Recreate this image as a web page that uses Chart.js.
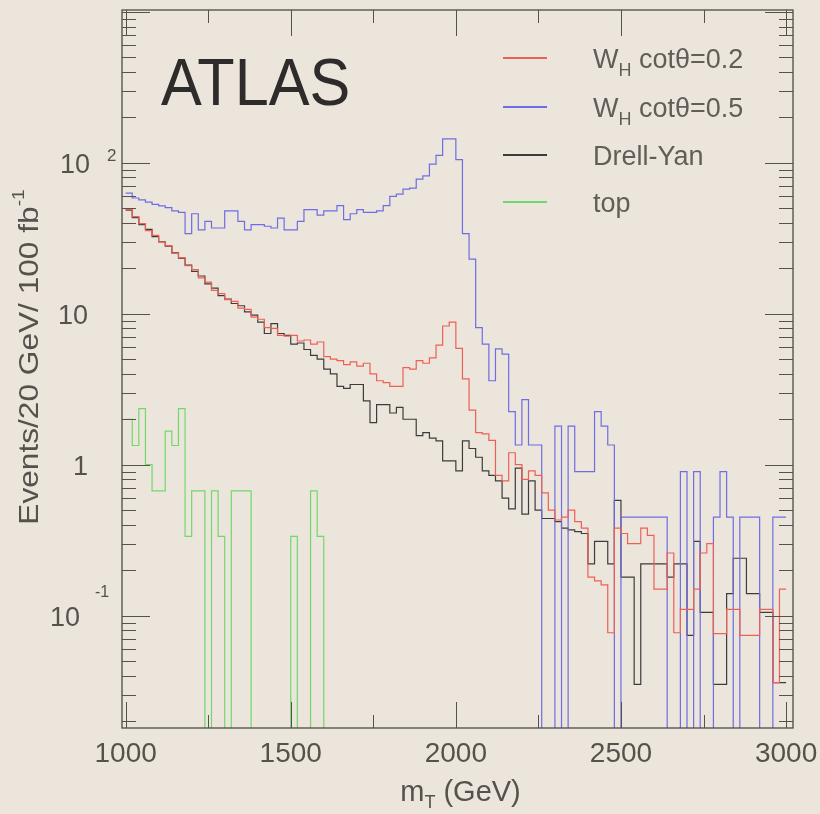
<!DOCTYPE html>
<html>
<head>
<meta charset="UTF-8">
<script src="https://cdn.jsdelivr.net/npm/chart.js"></script>
<style>
  html, body { margin: 0; padding: 0; background: #ece5dc; }
  #mtChart { display: block; }
</style>
</head>
<body>
<canvas id="mtChart" width="820" height="814"></canvas>
<script>
// m_T spectra, 20 GeV bins from 1000 to 3000 GeV (events per bin, 0 = empty bin)
const binLow = 1000;
const binWidth = 20;

const whCot02 = [
  49.0, 44.0, 39.6, 35.6, 33.1, 29.8, 28.3, 25.1, 23.6, 20.8,
  19.6, 17.3, 16.2, 14.3, 13.6, 12.4, 12.1, 10.9, 10.7, 9.5,
  9.2, 8.1, 8.0, 7.2, 7.1, 7.2, 6.6, 6.7, 6.3, 6.5,
  5.2, 5.0, 4.9, 4.6, 4.8, 4.5, 4.7, 4.0, 3.6, 3.5,
  3.3, 3.3, 4.4, 4.3, 4.9, 4.7, 5.1, 6.2, 8.3, 8.8,
  5.9, 3.7, 2.3, 1.63, 1.6, 1.45, 0.85, 0.78, 1.2, 1.0,
  0.8, 0.91, 0.85, 0.65, 0.5, 0.43, 0.45, 0.5, 0.42, 0.38,
  0.18, 0.17, 0.16, 0.077, 0.38, 0.35, 0.3, 0.3, 0.38, 0.34,
  0.15, 0.15, 0.26, 0.077, 0.11, 0.11, 0.15, 0.26, 0.3, 0.076,
  0.076, 0.11, 0.11, 0.074, 0.074, 0.074, 0.11, 0.11, 0.036, 0.15
];

const whCot05 = [
  63, 58.5, 56.8, 55, 53, 51.9, 50.5, 48, 47, 34,
  46, 36, 41, 37, 37, 48, 48, 41, 36, 39,
  39, 38, 37, 43, 36, 36, 41, 49, 49, 45,
  48, 48, 52, 42, 46, 49, 47, 47, 48, 52,
  60, 62, 67, 68, 78, 82, 98, 112, 144, 144,
  105, 34, 23, 8.1, 6.3, 3.6, 5.85, 5.4, 2.25, 1.35,
  2.7, 1.35, 1.35, 0, 0, 1.8, 0, 1.8, 0.9, 0.9,
  0.9, 2.25, 1.8, 1.35, 0, 0.45, 0.45, 0.45, 0.45, 0.45,
  0.45, 0.45, 0, 0, 0.9, 0, 0.9, 0, 0, 0.45,
  0.9, 0.45, 0, 0.45, 0.45, 0.45, 0, 0, 0.45, 0.45
];

const drellYan = [
  48.6, 43.4, 39.0, 36.2, 32.4, 30.0, 28.1, 25.3, 23.4, 21.0,
  19.1, 17.8, 15.8, 14.8, 13.2, 12.5, 11.7, 11.3, 10.3, 9.8,
  8.8, 7.4, 8.6, 7.4, 7.2, 6.3, 6.4, 5.8, 5.3, 5.0,
  4.3, 4.0, 3.3, 3.2, 3.4, 3.4, 2.65, 1.9, 2.5, 2.5,
  2.2, 2.4, 2.0, 2.0, 1.56, 1.63, 1.5, 1.44, 1.06, 1.06,
  0.91, 1.44, 1.28, 1.12, 0.91, 0.85, 0.78, 0.6, 0.51, 0.95,
  0.47, 0.78, 0.5, 0.44, 0.44, 0.42, 0.38, 0.37, 0.36, 0.35,
  0.22, 0.31, 0.31, 0.22, 0.58, 0.18, 0.18, 0.035, 0.22, 0.22,
  0.22, 0.22, 0.18, 0.22, 0.22, 0.074, 0.31, 0.105, 0.105, 0.035,
  0.035, 0.14, 0.24, 0.24, 0.14, 0.14, 0.105, 0.105, 0.036, 0.036
];

const topBkg = [
  2.0, 1.34, 2.35, 1.0, 0.67, 0.67, 1.67, 1.34, 2.35, 0.335,
  0.67, 0.67, 0, 0.67, 0.335, 0, 0.67, 0.67, 0.67, 0,
  0, 0, 0, 0, 0, 0.335, 0, 0, 0.67, 0.335,
  0, 0, 0, 0, 0, 0, 0, 0, 0, 0,
  0, 0, 0, 0, 0, 0, 0, 0, 0, 0,
  0, 0, 0, 0, 0, 0, 0, 0, 0, 0,
  0, 0, 0, 0, 0, 0, 0, 0, 0, 0,
  0, 0, 0, 0, 0, 0, 0, 0, 0, 0,
  0, 0, 0, 0, 0, 0, 0, 0, 0, 0,
  0, 0, 0, 0, 0, 0, 0, 0, 0, 0
];

const seriesLabels = ['W_H cotθ=0.2', 'W_H cotθ=0.5', 'Drell-Yan', 'top'];
const seriesColors = ['#ee5f55', '#6d6de4', '#3c3c3c', '#72d86c'];

const xTickLabels = [1000, 1500, 2000, 2500, 3000];
const yTickValues = [0.1, 1, 10, 100];
const yTickBase = ['10', '1', '10', '10'];
const yTickExp = ['-1', '', '', '2'];

const FONT = '"Liberation Sans", Arial, sans-serif';
const EMPTY = 1e-4; // empty bins fall below the axis and get clipped

// histogram outline: one point per low edge, plus the last high edge
function histPoints(values) {
  const pts = values.map((v, i) => ({ x: binLow + i * binWidth, y: v > 0 ? v : EMPTY }));
  const last = values[values.length - 1];
  pts.push({ x: binLow + values.length * binWidth, y: last > 0 ? last : EMPTY });
  return pts;
}

const allSeries = [whCot02, whCot05, drellYan, topBkg];

function textWithScripts(ctx, parts, x, y) {
  // parts: [{t, size, dy}]
  let cx = x;
  parts.forEach(p => {
    ctx.font = p.size + 'px ' + FONT;
    ctx.fillText(p.t, cx, y + (p.dy || 0));
    cx += ctx.measureText(p.t).width;
  });
  return cx;
}

function partsWidth(ctx, parts) {
  let w = 0;
  parts.forEach(p => { ctx.font = p.size + 'px ' + FONT; w += ctx.measureText(p.t).width; });
  return w;
}

// "W_H rest" -> W, subscript H, rest
function labelParts(label, size) {
  const m = label.match(/^(.*?)_(\w)(.*)$/);
  if (!m) return [{ t: label, size: size }];
  return [{ t: m[1], size: size }, { t: m[2], size: Math.round(size * 0.66), dy: 8 }, { t: m[3], size: size }];
}

const rootFrame = {
  id: 'rootFrame',
  afterDatasetsDraw(chart) {
    const ctx = chart.ctx;
    const a = chart.chartArea;
    const xs = chart.scales.x;
    const ys = chart.scales.y;
    ctx.save();

    // frame
    ctx.strokeStyle = '#4d4a46';
    ctx.lineWidth = 1.3;
    ctx.strokeRect(a.left, a.top, a.right - a.left, a.bottom - a.top);

    ctx.lineWidth = 1;
    ctx.strokeStyle = '#55524e';
    const seg = (x1, y1, x2, y2) => { ctx.beginPath(); ctx.moveTo(x1, y1); ctx.lineTo(x2, y2); ctx.stroke(); };

    // x ticks, inward on bottom and top
    for (let v = 1000; v <= 3000; v += 250) {
      const px = Math.round(xs.getPixelForValue(v)) + 0.5;
      const len = v % 500 === 0 ? 26 : 13;
      seg(px, a.bottom, px, a.bottom - len);
      seg(px, a.top, px, a.top + len);
    }
    // y ticks, log decades with 2..9 minors
    for (let d = -2; d <= 3; d++) {
      for (let m = 1; m <= 9; m++) {
        const v = m * Math.pow(10, d);
        if (v < ys.min || v > ys.max) continue;
        const py = Math.round(ys.getPixelForValue(v)) + 0.5;
        const len = m === 1 ? 28 : 14;
        seg(a.left, py, a.left + len, py);
        seg(a.right, py, a.right - len, py);
      }
    }

    // x tick labels
    ctx.fillStyle = '#55524e';
    ctx.font = '28px ' + FONT;
    ctx.textAlign = 'center';
    ctx.textBaseline = 'alphabetic';
    xTickLabels.forEach(v => {
      ctx.fillText(String(v), xs.getPixelForValue(v), a.bottom + 34);
    });

    // y tick labels, ROOT style exponents
    ctx.textAlign = 'left';
    yTickValues.forEach((v, i) => {
      const py = ys.getPixelForValue(v);
      ctx.font = '27px ' + FONT;
      const w = ctx.measureText(yTickBase[i]).width;
      if (yTickExp[i] === '-1') {
        ctx.fillText(yTickBase[i], a.left - 42 - w, py + 10);
        ctx.font = '16px ' + FONT;
        ctx.fillText(yTickExp[i], a.left - 27, py - 19);
      } else {
        const right = yTickExp[i] ? a.left - 32 : a.left - 34;
        ctx.fillText(yTickBase[i], right - w, py + 10);
        if (yTickExp[i]) {
          ctx.font = '17px ' + FONT;
          ctx.fillText(yTickExp[i], a.left - 15, py - 2);
        }
      }
    });

    // x title
    const xt = [{ t: 'm', size: 29 }, { t: 'T', size: 18, dy: 7 }, { t: ' (GeV)', size: 29 }];
    textWithScripts(ctx, xt, (a.left + a.right) / 2 - partsWidth(ctx, xt) / 2 + 3, 801);

    // y title, rotated
    const yt = [{ t: 'Events/20 GeV/ 100 fb', size: 28 }, { t: '-1', size: 17, dy: -14 }];
    ctx.save();
    ctx.translate(38, 357);
    ctx.rotate(-Math.PI / 2);
    ctx.scale(1.13, 1);
    textWithScripts(ctx, yt, -partsWidth(ctx, yt) / 2, 0);
    ctx.restore();

    // ATLAS
    ctx.save();
    ctx.fillStyle = '#2e2c2a';
    ctx.translate(161, 105);
    ctx.scale(1.02, 1.1);
    ctx.font = '60px ' + FONT;
    ctx.fillText('ATLAS', 0, 0);
    ctx.restore();

    // legend
    const rowY = [58, 107, 155, 202];
    chart.data.datasets.forEach((ds, i) => {
      ctx.strokeStyle = ds.borderColor;
      ctx.lineWidth = 2;
      seg(503, rowY[i], 547, rowY[i]);
      ctx.fillStyle = '#615d58';
      textWithScripts(ctx, labelParts(ds.label, 27), 593, rowY[i] + 10);
    });

    ctx.restore();
  }
};

new Chart(document.getElementById('mtChart'), {
  type: 'line',
  data: {
    datasets: allSeries.map((vals, i) => ({
      label: seriesLabels[i],
      data: histPoints(vals),
      borderColor: seriesColors[i],
      borderWidth: 1.2,
      stepped: true,
      pointRadius: 0,
      fill: false,
      tension: 0
    }))
  },
  options: {
    responsive: false,
    animation: false,
    devicePixelRatio: 1,
    layout: { padding: { left: 122, right: 27, top: 10, bottom: 86 } },
    scales: {
      x: { type: 'linear', min: 989, max: 3021, display: false },
      y: { type: 'logarithmic', min: 0.018, max: 1030, display: false }
    },
    plugins: {
      legend: { display: false },
      tooltip: { enabled: false }
    }
  },
  plugins: [rootFrame]
});
</script>
</body>
</html>
